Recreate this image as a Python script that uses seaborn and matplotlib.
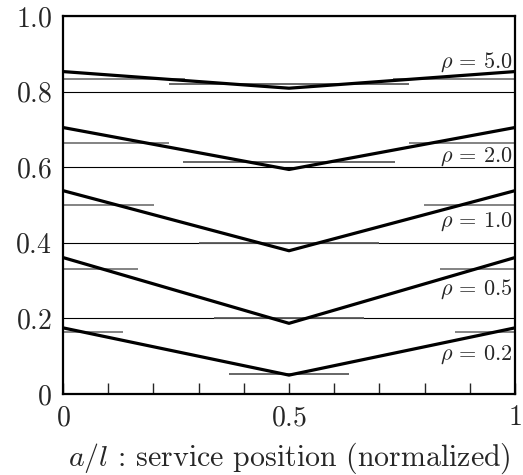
import numpy as np
import pandas as pd
import matplotlib as mpl
import matplotlib.pyplot as plt
import seaborn as sns


sns.set_style('white')
mpl.rcParams['font.family'] = ['cmr10', 'DejaVu Serif']
mpl.rcParams['mathtext.fontset'] = 'cm'
mpl.rcParams['axes.formatter.use_mathtext'] = True

# V-shaped curves: value at a/l = 0, 0.5, 1
rho_labels = ['5.0', '2.0', '1.0', '0.5', '0.2']
pos = [0.0, 0.5, 1.0]
edge_vals = [0.853, 0.705, 0.538, 0.361, 0.175]
mid_vals = [0.809, 0.594, 0.379, 0.187, 0.050]

# piecewise-constant approximation (gray segments)
side_levels = [0.833, 0.665, 0.499, 0.331, 0.165]
side_widths = [0.27, 0.235, 0.201, 0.166, 0.133]
mid_levels = [0.819, 0.614, 0.400, 0.200, 0.053]
mid_halfwidths = [0.265, 0.235, 0.20, 0.166, 0.133]

# baselines of the rho labels
label_y = [0.862, 0.615, 0.443, 0.262, 0.090]


def build_frame():
    rows = []
    for r, e, m in zip(rho_labels, edge_vals, mid_vals):
        for x, y in zip(pos, [e, m, e]):
            rows.append({'a': x, 'v': y, 'rho': r})
    return pd.DataFrame(rows)


def main():
    df = build_frame()
    fig = plt.figure(figsize=(5.23, 4.75), dpi=100)
    ax = fig.add_axes([0.1205, 0.1705, 0.8642, 0.7958])

    ax.set_yticks(np.arange(0, 1.01, 0.2))
    ax.yaxis.grid(True, color='black', lw=0.8)
    ax.set_axisbelow(True)

    for lev, w, ml, hw in zip(side_levels, side_widths, mid_levels, mid_halfwidths):
        ax.hlines([lev, lev], [0, 1 - w], [w, 1], color='#7a7a7a', lw=1.3, zorder=2)
        ax.hlines(ml, 0.5 - hw, 0.5 + hw, color='#5a5a5a', lw=1.3, zorder=2)

    sns.lineplot(data=df, x='a', y='v', units='rho', estimator=None,
                 color='black', lw=2.3, ax=ax, zorder=3)

    for r, ly in zip(rho_labels, label_y):
        ax.text(0.995, ly, r'$\rho\,=\,%s$' % r, ha='right', va='baseline',
                fontsize=16, zorder=4)

    ax.set_xlim(0, 1)
    ax.set_ylim(0, 1)
    ax.set_xticks([0, 0.5, 1])
    ax.set_xticklabels(['$0$', '$0.5$', '$1$'])
    ax.set_xticks(np.arange(0.1, 1.0, 0.1), minor=True)
    ax.set_yticklabels(['$0$', '$0.2$', '$0.4$', '$0.6$', '$0.8$', '$1.0$'])
    ax.tick_params(axis='x', which='both', direction='in', length=7.7,
                   width=1, labelsize=20, pad=8, bottom=True)
    ax.tick_params(axis='y', length=0, labelsize=20, pad=8)

    for s in ax.spines.values():
        s.set_color('black')
        s.set_linewidth(1.6)

    ax.set_xlabel(r'$a/l$ : service position (normalized)', fontsize=21.5,
                  labelpad=6.5)
    ax.set_ylabel('')

    fig.savefig('out.png', dpi=100)


if __name__ == '__main__':
    main()
